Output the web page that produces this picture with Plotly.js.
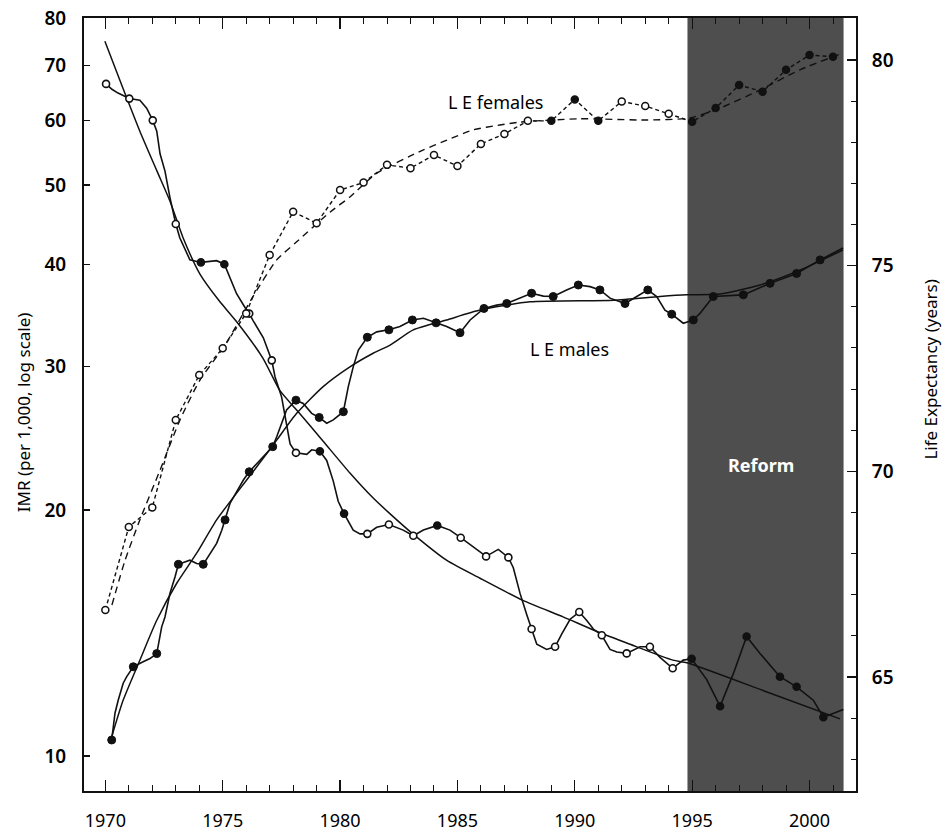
<!DOCTYPE html>
<html>
<head>
<meta charset="utf-8">
<script src="https://cdn.plot.ly/plotly-3.0.1.min.js"></script>
<style>html,body{margin:0;padding:0;background:#fff;}#chart{width:952px;height:833px;}</style>
</head>
<body>
<div id="chart"></div>
<script>
// ---------- DATA ----------
// Infant mortality rate (per 1,000), detailed (monthly-like) series
const imrYears = [1970.03,1970.28,1970.54,1971.02,1971.47,1971.76,1972.02,1972.19,1972.33,1972.54,1972.75,1973.0,1973.17,1973.6,1974.07,1974.74,1975.07,1975.31,1975.59,1975.95,1976.13,1976.3,1976.73,1977.09,1977.23,1977.51,1977.72,1977.87,1978.12,1978.58,1978.79,1979.14,1979.43,1979.71,1979.92,1980.17,1980.56,1980.85,1981.16,1981.56,1982.08,1982.69,1983.12,1983.55,1984.14,1984.68,1985.14,1985.68,1986.22,1986.74,1987.17,1987.38,1987.67,1987.95,1988.16,1988.38,1988.8,1989.16,1989.44,1989.8,1990.19,1990.51,1990.79,1991.15,1991.5,1991.79,1992.21,1992.78,1993.2,1993.63,1994.17,1994.62,1994.98,1995.62,1996.19,1996.75,1997.32,1997.89,1998.74,1999.45,2000.16,2000.59,2001.44];
const imrValues = [66.5,65.5,64.8,63.8,63.5,62.1,60.0,58.2,54.6,52.0,48.3,44.8,43.1,40.5,40.2,40.4,40.0,38.5,36.8,35.4,34.8,34.1,32.5,30.5,29.1,27.5,25.5,24.1,23.5,23.4,23.7,23.6,23.0,21.7,20.5,19.8,18.9,18.7,18.7,19.05,19.2,18.9,18.6,18.9,19.15,18.9,18.5,18.0,17.55,17.9,17.5,17.0,15.8,14.9,14.3,13.7,13.5,13.6,14.1,14.7,15.0,14.65,14.3,14.05,13.5,13.4,13.35,13.6,13.6,13.2,12.8,13.1,13.15,12.4,11.5,12.6,14.0,13.35,12.5,12.15,11.7,11.15,11.4];
// IMR annual observations (circles)
const imrPtYears = [1970.03,1971.02,1972.02,1973.0,1974.07,1975.07,1976.13,1977.09,1978.12,1979.14,1980.17,1981.16,1982.08,1983.12,1984.14,1985.14,1986.22,1987.17,1988.16,1989.16,1990.19,1991.15,1992.21,1993.2,1994.17,1994.98,1996.19,1997.32,1998.74,1999.45,2000.59];
const imrPtValues = [66.5,63.8,60.0,44.8,40.2,40.0,34.8,30.5,23.5,23.6,19.8,18.7,19.2,18.6,19.15,18.5,17.55,17.5,14.3,13.6,15.0,14.05,13.35,13.6,12.8,13.15,11.5,14.0,12.5,12.15,11.15];
// IMR smoothed trend
const imrTrendYears = [1969.98,1970.75,1971.47,1972.2,1972.75,1973.31,1974.03,1974.84,1975.56,1976.71,1977.44,1978.16,1979.27,1980.42,1981.4,1982.12,1983.1,1984.55,1985.96,1987.79,1989.5,1990.95,1992.35,1994.18,1994.78,1998.1,2001.3];
const imrTrendValues = [75.0,65.7,58.2,52.0,47.8,43.1,38.9,36.1,34.1,30.7,28.0,26.5,24.3,22.2,20.7,19.8,18.7,17.35,16.5,15.5,14.8,14.2,13.7,13.1,13.0,12.0,11.1];

// Life expectancy, males (years), detailed series
const maleYears = [1970.27,1970.41,1970.55,1970.76,1970.91,1971.19,1971.61,1971.9,1972.19,1972.4,1972.54,1972.75,1972.97,1973.11,1973.6,1973.89,1974.17,1974.46,1974.74,1974.96,1975.1,1975.31,1975.59,1975.88,1976.13,1976.45,1976.73,1977.13,1977.3,1977.51,1977.72,1978.12,1978.43,1978.79,1979.11,1979.43,1979.71,1980.14,1980.35,1980.56,1980.78,1981.16,1981.56,1982.08,1982.55,1983.08,1983.55,1984.09,1984.54,1985.11,1985.54,1986.13,1986.67,1987.1,1987.66,1988.16,1988.66,1989.08,1989.65,1990.15,1990.65,1991.07,1991.5,1992.14,1992.64,1993.11,1993.49,1993.84,1994.13,1994.62,1995.05,1995.33,1995.9,1997.18,1998.32,1999.45,2000.45,2001.43];
const maleValues = [63.47,64.12,64.44,64.85,65.01,65.25,65.37,65.45,65.57,66.22,66.46,67.03,67.44,67.74,67.84,67.76,67.74,68.01,68.25,68.57,68.82,69.22,69.5,69.79,69.99,70.19,70.35,70.6,70.84,71.17,71.49,71.73,71.65,71.41,71.31,71.17,71.25,71.45,72.06,72.54,72.95,73.26,73.39,73.44,73.52,73.68,73.72,73.61,73.52,73.37,73.68,73.96,74.04,74.08,74.21,74.33,74.26,74.25,74.41,74.53,74.49,74.41,74.21,74.08,74.25,74.41,74.25,73.92,73.82,73.6,73.68,73.84,74.25,74.29,74.57,74.81,75.14,75.43];
const malePtYears = [1970.27,1971.19,1972.19,1973.11,1974.17,1975.1,1976.13,1977.13,1978.12,1979.11,1980.14,1981.16,1982.08,1983.08,1984.09,1985.11,1986.13,1987.1,1988.16,1989.08,1990.15,1991.07,1992.14,1993.11,1994.13,1995.05,1995.9,1997.18,1998.32,1999.45,2000.45];
const malePtValues = [63.47,65.25,65.57,67.74,67.74,68.82,69.99,70.6,71.73,71.31,71.45,73.26,73.44,73.68,73.61,73.37,73.96,74.08,74.33,74.25,74.53,74.41,74.08,74.41,73.82,73.68,74.25,74.29,74.57,74.81,75.14];
const maleTrendYears = [1970.27,1970.76,1971.47,1972.19,1973.04,1973.89,1974.74,1975.59,1976.45,1977.3,1978.15,1979.28,1980.42,1981.41,1982.13,1983.12,1984.54,1985.96,1988.09,1991.64,1993.63,1994.77,1996.19,1997.89,1999.59,2001.42];
const maleTrendValues = [63.55,64.44,65.41,66.38,67.28,68.01,68.82,69.47,70.11,70.76,71.41,72.06,72.54,72.87,73.07,73.44,73.68,73.92,74.12,74.16,74.25,74.29,74.31,74.53,74.89,75.38];

// Life expectancy, females (years)
const femYears = [1970,1971,1972,1973,1974,1975,1976,1977,1978,1979,1980,1981,1982,1983,1984,1985,1986,1987,1988,1989,1990,1991,1992,1993,1994,1995,1996,1997,1998,1999,2000,2001];
const femValues = [66.63,68.65,69.12,71.25,72.34,72.99,73.84,75.26,76.31,76.03,76.84,77.02,77.45,77.37,77.69,77.42,77.96,78.2,78.52,78.52,79.04,78.52,78.99,78.88,78.69,78.5,78.83,79.39,79.23,79.76,80.12,80.08];
const femTrendYears = [1970.28,1970.84,1971.47,1972.33,1973.18,1974.03,1975.1,1976.28,1977.3,1978.15,1979.57,1980.42,1981.57,1983.53,1984.55,1985.66,1986.81,1987.66,1990.22,1993.08,1994.91,1996.19,1997.89,1999.59,2001.42];
const femTrendValues = [66.75,67.84,68.82,70.03,71.25,72.22,73.07,74.24,75.14,75.58,76.3,76.67,77.25,77.81,78.05,78.3,78.42,78.49,78.57,78.54,78.59,78.83,79.27,79.76,80.17];

// Axis ticks and labels
const imrTicks = [10,20,30,40,50,60,70,80];
const leTicks = [65,70,75,80];
const reformStart = 1994.8, reformEnd = 2001.45;
const labels = {
  left: 'IMR (per 1,000, log scale)',
  right: 'Life Expectancy (years)',
  fem: 'L E females',
  male: 'L E males',
  reform: 'Reform'
};

// ---------- STYLE ----------
const INK = '#111';
const FONT = 'Noto Sans, Open Sans, DejaVu Sans, sans-serif';
const imrFilledYears = [1974,1975,1979,1980,1984];
const imrFill = imrPtYears.map(y => (imrFilledYears.includes(Math.floor(y)) || y > reformStart) ? INK : '#fff');
const femFill = femYears.map(y => ([1989,1990,1991].includes(y) || y >= 1995) ? INK : '#fff');

const traces = [
  {x: femTrendYears, y: femTrendValues, yaxis: 'y2', mode: 'lines', line: {color: INK, width: 1.4, dash: '7px,5px', shape: 'spline', smoothing: 0.6}, hoverinfo: 'skip'},
  {x: femYears, y: femValues, yaxis: 'y2', mode: 'lines+markers', line: {color: INK, width: 1.4, dash: '4px,3px'},
   marker: {symbol: 'circle', size: 7, color: femFill, line: {color: INK, width: 1.5}}},
  {x: maleTrendYears, y: maleTrendValues, yaxis: 'y2', mode: 'lines', line: {color: INK, width: 1.5, shape: 'spline', smoothing: 0.6}, hoverinfo: 'skip'},
  {x: maleYears, y: maleValues, yaxis: 'y2', mode: 'lines', line: {color: INK, width: 1.6}},
  {x: malePtYears, y: malePtValues, yaxis: 'y2', mode: 'markers', marker: {symbol: 'circle', size: 8, color: INK, line: {color: INK, width: 1}}},
  {x: imrTrendYears, y: imrTrendValues, yaxis: 'y', mode: 'lines', line: {color: INK, width: 1.5, shape: 'spline', smoothing: 0.6}, hoverinfo: 'skip'},
  {x: imrYears, y: imrValues, yaxis: 'y', mode: 'lines', line: {color: INK, width: 1.6}},
  {x: imrPtYears, y: imrPtValues, yaxis: 'y', mode: 'markers', marker: {symbol: 'circle', size: 7, color: imrFill, line: {color: INK, width: 1.6}}}
];

function note(x, y, text, size, color, angle) {
  return {xref: 'paper', yref: 'paper', x: x, y: y, xanchor: 'center', yanchor: 'middle',
          text: text, showarrow: false, textangle: angle || 0,
          font: {family: FONT, size: size, color: color}};
}

const layout = {
  width: 952, height: 833,
  margin: {l: 84, r: 96, t: 18, b: 42},
  paper_bgcolor: '#fff', plot_bgcolor: '#fff',
  showlegend: false,
  font: {family: FONT, color: '#000'},
  xaxis: {
    range: [1969.09, 2001.98], showline: true, linecolor: INK, linewidth: 2,
    mirror: 'ticks', ticks: 'inside', ticklen: 11, tickwidth: 1.3, tickcolor: INK,
    tick0: 1970, dtick: 5,
    minor: {dtick: 1, ticks: 'inside', ticklen: 6, tickwidth: 1, tickcolor: INK},
    showgrid: false, zeroline: false,
    tickfont: {family: FONT, size: 18, color: '#000'}, ticklabelstandoff: 12
  },
  yaxis: {
    type: 'log', range: [0.957, 1.9035], tickvals: imrTicks, ticktext: imrTicks.map(String),
    showline: true, linecolor: INK, linewidth: 2, ticks: 'inside', ticklen: 6, tickwidth: 1.3, tickcolor: INK,
    showgrid: false, zeroline: false,
    tickfont: {family: FONT, size: 19, color: '#000', weight: 600}, ticklabelstandoff: 12
  },
  yaxis2: {
    overlaying: 'y', side: 'right', range: [62.23, 81.02], tickvals: leTicks, ticktext: leTicks.map(String),
    showline: true, linecolor: INK, linewidth: 2, ticks: 'inside', ticklen: 9, tickwidth: 1.3, tickcolor: INK,
    minor: {dtick: 1, tick0: 0, ticks: 'inside', ticklen: 5, tickwidth: 1, tickcolor: INK},
    showgrid: false, zeroline: false,
    tickfont: {family: FONT, size: 19, color: '#000', weight: 600}, ticklabelstandoff: 10
  },
  shapes: [
    {type: 'rect', xref: 'x', yref: 'paper', x0: reformStart, x1: reformEnd, y0: 0, y1: 1,
     fillcolor: '#4e4e4e', line: {width: 0}, layer: 'below'}
  ],
  annotations: [
    note(0.534, 0.891, labels.fem, 18, '#000'),
    note(0.6295, 0.572, labels.male, 18, '#000'),
    note(0.877, 0.422, '<b>' + labels.reform + '</b>', 18, '#fff'),
    note(-0.079, 0.49, labels.left, 17, '#000', -90),
    note(1.097, 0.545, labels.right, 17, '#000', -90)
  ]
};

Plotly.newPlot('chart', traces, layout, {displayModeBar: false, staticPlot: true});
</script>
</body>
</html>
